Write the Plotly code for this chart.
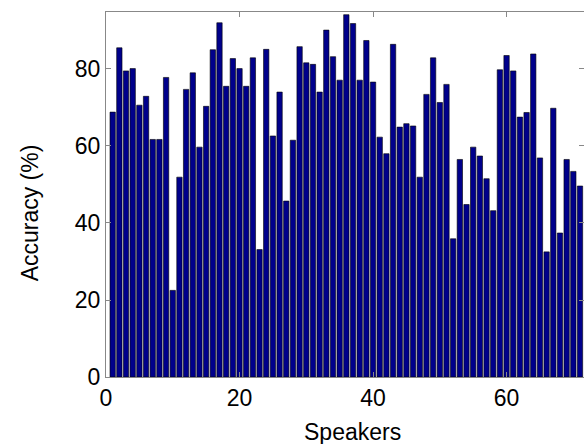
import plotly.graph_objects as go

speakers = list(range(1, 72))
accuracy = [68.8, 85.5, 79.5, 80.1, 70.6, 72.9, 61.7, 61.7, 77.8, 22.5,
            51.9, 74.7, 79.0, 59.7, 70.3, 85.0, 92.0, 75.5, 82.7, 80.1,
            75.5, 82.9, 33.1, 85.1, 62.6, 74.0, 45.7, 61.5, 85.8, 81.6,
            81.2, 74.0, 90.1, 83.2, 77.1, 94.1, 91.8, 77.1, 87.4, 76.6,
            62.3, 58.0, 86.4, 64.9, 65.8, 65.2, 51.9, 73.4, 82.9, 71.3,
            76.0, 35.9, 56.5, 44.8, 59.7, 57.4, 51.5, 43.2, 79.8, 83.5,
            79.5, 67.5, 68.7, 83.9, 56.9, 32.5, 69.8, 37.4, 56.5, 53.4,
            49.6]
y_ticks = [0, 20, 40, 60, 80]
x_ticks = [0, 20, 40, 60]

font_family = "Liberation Sans, Arial, sans-serif"

fig = go.Figure(go.Bar(
    x=speakers, y=accuracy, width=0.8,
    marker=dict(color="#00008B", line=dict(color="#000000", width=0.6)),
    hoverinfo="skip",
))

fig.update_layout(
    width=584, height=444,
    margin=dict(l=106, r=0, t=12, b=67),
    paper_bgcolor="white", plot_bgcolor="white",
    showlegend=False,
    font=dict(family=font_family, size=23, color="#000000"),
    xaxis=dict(range=[0, 71.6], tickvals=x_ticks, ticks="inside", ticklen=5,
               tickcolor="#888888", showline=True, linecolor="#888888", linewidth=1,
               mirror="ticks", showgrid=False, zeroline=False,
               tickfont=dict(size=23)),
    yaxis=dict(range=[0, 94.8], tickvals=y_ticks, ticks="inside", ticklen=5,
               tickcolor="#888888", showline=True, linecolor="#888888", linewidth=1,
               mirror="ticks", showgrid=False, zeroline=False,
               tickfont=dict(size=23)),
    annotations=[
        dict(text="Speakers", xref="x", x=36.9, yref="paper", y=0, yshift=-55,
             showarrow=False, font=dict(size=23), xanchor="center", yanchor="middle"),
        dict(text="Accuracy (%)", xref="paper", x=0, xshift=-76, yref="y", y=42.5,
             textangle=-90, showarrow=False, font=dict(size=23),
             xanchor="center", yanchor="middle"),
    ],
)

fig.write_html(
    "out.html",
    config={"displayModeBar": False},
    post_script="document.body.style.margin='0';document.body.style.overflow='hidden';",
)
